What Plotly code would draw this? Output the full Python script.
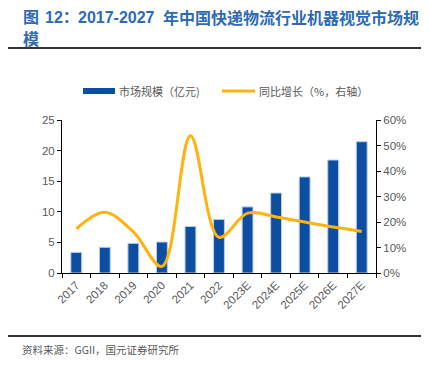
import plotly.graph_objects as go

categories = ["2017", "2018", "2019", "2020", "2021", "2022", "2023E", "2024E", "2025E", "2026E", "2027E"]
market_size = [3.37, 4.2, 4.84, 5.06, 7.6, 8.76, 10.8, 13.07, 15.7, 18.46, 21.45]
yoy_growth = [17.3, 23.8, 16.1, 2.6, 53.8, 14.0, 23.5, 22.0, 20.0, 18.0, 16.3]
left_ticks = [0, 5, 10, 15, 20, 25]
right_ticks = [0, 10, 20, 30, 40, 50, 60]

BLUE = "#0C4EA2"
GOLD = "#FFB30F"
GRAY = "#595959"
FONT = "Noto Sans CJK SC"

OFF = 8  # page body margin
W, H = 429 - OFF, 365 - OFF
L, R, T, B = 62 - OFF, 376 - OFF, 120 - OFF, 273 - OFF
def px(x): return (x - OFF - L) / (R - L)
def py(y): return (B - (y - OFF)) / (B - T)

fig = go.Figure()
fig.add_trace(go.Bar(x=categories, y=market_size, name="市场规模（亿元)",
                     marker=dict(color=BLUE, line=dict(color="#B9CCE6", width=1)),
                     width=0.38, yaxis="y"))
fig.add_trace(go.Scatter(x=categories, y=yoy_growth, name="同比增长（%，右轴）",
                         mode="lines", line=dict(color=GOLD, width=3, shape="spline", smoothing=1.0),
                         yaxis="y2"))

tf = dict(family="Liberation Sans, Arial", size=11.5, color=GRAY)
fig.update_layout(
    width=W, height=H,
    margin=dict(l=L, r=W - R, t=T, b=H - B, pad=0, autoexpand=False),
    paper_bgcolor="white", plot_bgcolor="white",
    showlegend=False,
    font=dict(family=FONT, color=GRAY, size=11),
    xaxis=dict(type="category", showline=True, linecolor="black", linewidth=1, automargin=False,
               ticks="outside", tickson="boundaries", ticklen=4, tickcolor="black",
               tickangle=-45, tickfont=tf, showgrid=False),
    yaxis=dict(range=[0, 25], tickvals=left_ticks, showline=True, linecolor="black", linewidth=1,
               ticks="outside", ticklen=4, tickcolor="black", showgrid=False, zeroline=False,
               automargin=False, tickfont=tf),
    yaxis2=dict(range=[0, 60], tickvals=right_ticks, ticktext=[f"{v}%" for v in right_ticks],
                overlaying="y", side="right", showline=True, linecolor="black", linewidth=1,
                ticks="outside", ticklen=4, tickcolor="black", showgrid=False, zeroline=False,
                automargin=False, tickfont=tf),
)

TITLE_COLOR = "#2E6AB5"
TFONT = dict(family="Liberation Sans, " + FONT, size=16, color=TITLE_COLOR)
title_parts = [(22, "图"), (44, "12："), (77, "2017-2027"), (162, "年中国快递物流行业机器视觉市场规")]
for x, s in title_parts:
    fig.add_annotation(x=px(x), y=py(OFF), xref="paper", yref="paper", xanchor="left", yanchor="top",
                       text=f"<b>{s}</b>", showarrow=False, borderpad=0, font=TFONT)
fig.add_annotation(x=px(22), y=py(39), xref="paper", yref="paper", xanchor="left", yanchor="middle",
                   text="<b>模</b>", showarrow=False, borderpad=0, font=TFONT)

fig.add_shape(type="line", xref="paper", yref="paper", x0=px(OFF), x1=px(429), y0=py(48), y1=py(48),
              line=dict(color="#333333", width=2))
fig.add_shape(type="line", xref="paper", yref="paper", x0=px(OFF), x1=px(429), y0=py(336), y1=py(336),
              line=dict(color="#333333", width=2))

# legend
fig.add_shape(type="rect", xref="paper", yref="paper", x0=px(83), x1=px(115), y0=py(94), y1=py(88),
              fillcolor=BLUE, line=dict(width=0))
fig.add_annotation(x=px(117), y=py(91), xref="paper", yref="paper", xanchor="left", yanchor="middle",
                   text="市场规模（亿元)", showarrow=False, font=dict(family=FONT, size=11, color=GRAY))
fig.add_shape(type="line", xref="paper", yref="paper", x0=px(222), x1=px(255), y0=py(91), y1=py(91),
              line=dict(color=GOLD, width=3))
fig.add_annotation(x=px(257), y=py(91), xref="paper", yref="paper", xanchor="left", yanchor="middle",
                   text="同比增长（%，右轴）", showarrow=False, font=dict(family=FONT, size=11, color=GRAY))

fig.add_annotation(x=px(20), y=py(349), xref="paper", yref="paper", xanchor="left", yanchor="middle",
                   text="资料来源：GGII，国元证券研究所", showarrow=False,
                   font=dict(family=FONT, size=10.5, color=GRAY))

fig.write_html("out.html")
